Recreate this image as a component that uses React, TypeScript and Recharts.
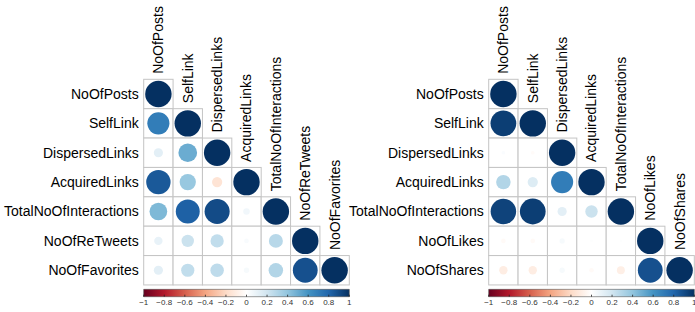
import React from "react";
import {
  ScatterChart,
  Scatter,
  XAxis,
  YAxis,
  ReferenceArea,
} from "recharts";

// variable names for each panel
const leftVars = [
  "NoOfPosts",
  "SelfLink",
  "DispersedLinks",
  "AcquiredLinks",
  "TotalNoOfInteractions",
  "NoOfReTweets",
  "NoOfFavorites",
];

const rightVars = [
  "NoOfPosts",
  "SelfLink",
  "DispersedLinks",
  "AcquiredLinks",
  "TotalNoOfInteractions",
  "NoOfLikes",
  "NoOfShares",
];

// lower triangle of the correlation matrices (row by row, diagonal included)
const leftCorr = [
  [1],
  [0.7, 1],
  [0.12, 0.5, 1],
  [0.85, 0.38, -0.15, 1],
  [0.45, 0.82, 0.9, 0.06, 1],
  [0.1, 0.22, 0.25, 0.03, 0.28, 1],
  [0.12, 0.25, 0.26, 0.04, 0.3, 0.88, 1],
];

const rightCorr = [
  [1],
  [0.95, 1],
  [0.02, -0.02, 1],
  [0.3, 0.15, 0.7, 1],
  [0.93, 0.95, 0.12, 0.22, 1],
  [-0.03, -0.03, 0.04, 0.01, 0.01, 1],
  [-0.1, -0.1, 0.04, -0.03, -0.09, 0.88, 1],
];

const colorbarTicks = [-1, -0.8, -0.6, -0.4, -0.2, 0, 0.2, 0.4, 0.6, 0.8, 1];

// corrplot RdBu palette
const palette = [
  "#67001F",
  "#B2182B",
  "#D6604D",
  "#F4A582",
  "#FDDBC7",
  "#FFFFFF",
  "#D1E5F0",
  "#92C5DE",
  "#4393C3",
  "#2166AC",
  "#053061",
];

const FONT = "'Liberation Sans', Arial, Helvetica, sans-serif";
const CHART_W = 356;
const CHART_H = 312;
const MARGIN = { top: 79.3, right: 6.7, left: 0, bottom: 1.3 };
const Y_AXIS_W = 143.7;
const CB_AXIS_H = 14;
const N = 7;
const Y_MAX = 7.4;
const CB_TOP = 7.15;
const CELL = (CHART_W - Y_AXIS_W - MARGIN.right) / N;

const hexToRgb = (h: string) => [
  parseInt(h.slice(1, 3), 16),
  parseInt(h.slice(3, 5), 16),
  parseInt(h.slice(5, 7), 16),
];

const corrColor = (r: number) => {
  const t = ((Math.max(-1, Math.min(1, r)) + 1) / 2) * (palette.length - 1);
  const i = Math.min(Math.floor(t), palette.length - 2);
  const f = t - i;
  const a = hexToRgb(palette[i]);
  const b = hexToRgb(palette[i + 1]);
  const c = a.map((v, k) => Math.round(v + (b[k] - v) * f));
  return `rgb(${c[0]},${c[1]},${c[2]})`;
};

const fmtTick = (v: number) => (v < 0 ? `\u2212${Math.abs(v)}` : `${v}`);

const CorrCell = (props: any) => {
  const { cx, cy, payload } = props;
  if (cx == null || cy == null) return null;
  const rad = 0.45 * CELL * Math.sqrt(Math.abs(payload.r));
  return (
    <g>
      <rect
        x={cx - CELL / 2}
        y={cy - CELL / 2}
        width={CELL}
        height={CELL}
        fill="#fff"
        stroke="#c4c4c4"
        strokeWidth={1}
      />
      <circle cx={cx} cy={cy} r={rad} fill={corrColor(payload.r)} />
    </g>
  );
};

const ColLabel = (props: any) => {
  const { cx, cy, payload } = props;
  if (cx == null || cy == null) return null;
  const y = cy - 5.5;
  return (
    <text
      x={cx}
      y={y}
      transform={`rotate(-90 ${cx} ${y})`}
      textAnchor="start"
      dominantBaseline="central"
      fontSize={14}
      fontFamily={FONT}
      fill="#000"
    >
      {payload.name}
    </text>
  );
};

// little tick marks sitting inside the bottom of the colour bar
const CbTick = (props: any) => {
  const { cx, cy } = props;
  if (cx == null || cy == null) return null;
  return <line x1={cx} x2={cx} y1={cy} y2={cy - 2} stroke="#222" strokeWidth={0.8} />;
};

const CorrPanel = ({
  id,
  vars,
  corr,
}: {
  id: string;
  vars: string[];
  corr: number[][];
}) => {
  const cells = corr.flatMap((row, i) =>
    row.map((r, j) => ({ x: j + 0.5, y: i + 0.5, r }))
  );
  const labels = vars.map((name, i) => ({ x: i + 0.5, y: i, name }));
  const cbMarks = colorbarTicks.map((v) => ({ x: v, y: Y_MAX }));

  return (
    <ScatterChart width={CHART_W} height={CHART_H} margin={MARGIN}>
      <defs>
        <linearGradient id={`cb-${id}`} x1="0" y1="0" x2="1" y2="0">
          {palette.map((c, k) => (
            <stop key={k} offset={`${(k / (palette.length - 1)) * 100}%`} stopColor={c} />
          ))}
        </linearGradient>
      </defs>
      <XAxis xAxisId="grid" type="number" dataKey="x" domain={[0, N]} hide />
      <XAxis
        xAxisId="cb"
        type="number"
        dataKey="x"
        domain={[-1, 1]}
        ticks={colorbarTicks}
        tickFormatter={fmtTick}
        axisLine={false}
        tickLine={false}
        tickSize={0}
        tickMargin={3}
        height={CB_AXIS_H}
        interval={0}
        tick={{ fontSize: 8, fill: "#333", fontFamily: FONT }}
      />
      <YAxis
        type="number"
        dataKey="y"
        domain={[0, Y_MAX]}
        reversed
        ticks={vars.map((_, i) => i + 0.5)}
        tickFormatter={(v: number) => vars[Math.floor(v)]}
        width={Y_AXIS_W}
        axisLine={false}
        tickLine={false}
        tickSize={0}
        tickMargin={5}
        interval={0}
        tick={{ fontSize: 14, fill: "#000", fontFamily: FONT }}
      />
      <ReferenceArea
        xAxisId="cb"
        x1={-1}
        x2={1}
        y1={CB_TOP}
        y2={Y_MAX}
        fill={`url(#cb-${id})`}
        fillOpacity={1}
        stroke="#555"
        strokeWidth={0.6}
        ifOverflow="visible"
      />
      <Scatter
        xAxisId="cb"
        data={cbMarks}
        shape={CbTick}
        isAnimationActive={false}
      />
      <Scatter
        xAxisId="grid"
        data={cells}
        shape={CorrCell}
        isAnimationActive={false}
      />
      <Scatter
        xAxisId="grid"
        data={labels}
        shape={ColLabel}
        isAnimationActive={false}
      />
    </ScatterChart>
  );
};

export default function App() {
  return (
    <div
      style={{
        position: "absolute",
        left: 0,
        top: 0,
        width: 695,
        height: 312,
        overflow: "hidden",
        background: "#fff",
      }}
    >
      <div style={{ position: "absolute", left: 0, top: 0 }}>
        <CorrPanel id="left" vars={leftVars} corr={leftCorr} />
      </div>
      <div style={{ position: "absolute", left: 345.3, top: 0 }}>
        <CorrPanel id="right" vars={rightVars} corr={rightCorr} />
      </div>
    </div>
  );
}
